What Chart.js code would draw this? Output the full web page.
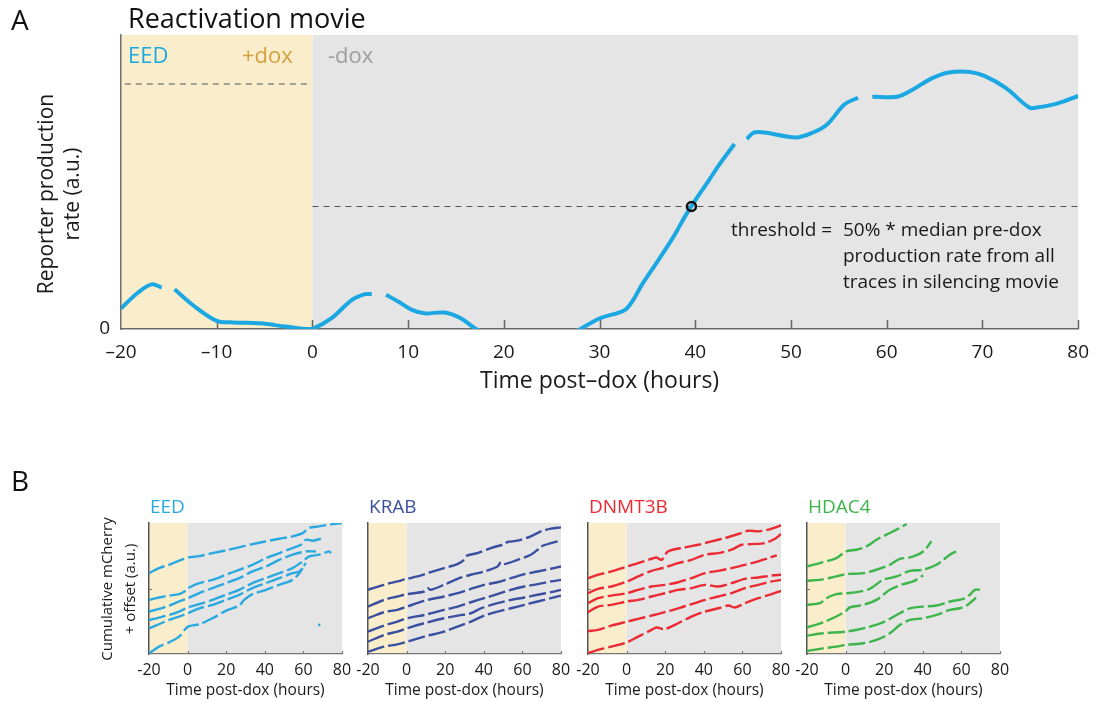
<!DOCTYPE html>
<html>
<head>
<meta charset="utf-8">
<script src="https://cdn.jsdelivr.net/npm/chart.js@4.4.1/dist/chart.umd.min.js"></script>
<style>
  html, body { margin: 0; padding: 0; background: #fff; }
  #fig { position: relative; width: 1101px; height: 702px; overflow: hidden; background: #fff; }
  #fig canvas { position: absolute; }
</style>
</head>
<body>
<div id="fig">
  <canvas id="chartA" width="1101" height="400" style="left:0;top:0"></canvas>
  <canvas id="chartEED" width="362" height="242" style="left:0;top:460px"></canvas>
  <canvas id="chartKRAB" width="273" height="242" style="left:308px;top:460px"></canvas>
  <canvas id="chartDNMT3B" width="273" height="242" style="left:528px;top:460px"></canvas>
  <canvas id="chartHDAC4" width="273" height="242" style="left:747px;top:460px"></canvas>
</div>
<script>
// ---------- Panel A: single reactivation trace (production rate, a.u.) ----------
const reactTime = [-20, -18.3, -16.8, -15.75, -15.1, -14.4, -12.5, -10, -8.3, -5.5, -2.8, -0.7, 0, 2, 4.1, 5.5, 6.2, 6.9, 7.7, 9, 10.4, 11.7, 13.8, 15.5, 17.1, 20, 23, 26, 28, 30, 32.6, 33.5, 34.4, 35.9, 37.7, 39.2, 41.4, 42.8, 44.1, 44.8, 45.4, 46.1, 47.2, 50.5, 52.3, 53.8, 55.6, 57, 57.8, 58.5, 61.1, 62.5, 64.7, 66.5, 68.7, 70.2, 72.4, 74.9, 75.7, 77.8, 80];
const reactRate = [0.084, 0.146, 0.182, 0.169, null, 0.162, 0.098, 0.033, 0.027, 0.023, 0.01, 0, 0, 0.044, 0.118, 0.142, 0.143, null, 0.14, 0.111, 0.078, 0.064, 0.067, 0.044, 0, -0.05, -0.07, -0.04, 0, 0.043, 0.077, 0.118, 0.179, 0.267, 0.375, 0.477, 0.606, 0.687, 0.755, null, 0.775, 0.802, 0.802, 0.782, 0.802, 0.836, 0.917, 0.944, null, 0.948, 0.948, 0.972, 1.023, 1.047, 1.049, 1.033, 0.985, 0.904, 0.904, 0.92, 0.951];
const preDoxMedian = 1.0;          // median pre-dox production rate
const threshold = 0.5;             // 50% of the pre-dox median
const crossTime = 39.6;            // first threshold crossing after dox removal
const xTicksA = [-20, -10, 0, 10, 20, 30, 40, 50, 60, 70, 80];

// ---------- Panel B: cumulative mCherry + offset (a.u.), six cells per chromatin regulator ----------
const eedTimes = [
  [-20, -14.8, -9.6, -4.4, 0.2, 6, 12.9, 19.8, 26.7, 33.6, 40.6, 47.5, 54.4, 59.6, 63, 68.2, 75.2, 80],
  [-20, -14.8, -9.6, -4.4, -1, 0.2, 6, 12.9, 19.8, 26.7, 33.6, 40.6, 47.5, 54.4, 58.7, 61.3, 64.8, 70],
  [-20, -14.8, -9.6, -4.4, 0.2, 6, 12.9, 19.8, 26.7, 33.6, 40.6, 47.5, 54.4, 61.3, 66.5],
  [-20, -14.8, -9.6, -4.4, 0.2, 6, 12.9, 19.8, 26.7, 33.6, 40.6, 47.5, 54.4, 59.6, 63, 68.2, 73.4, 74.3],
  [-20, -14.8, -9.6, -4.4, 0.2, 6, 12.9, 19.8, 26.7, 33.6, 40.6, 47.5, 54.4, 57.9, 61.3],
  [-20, -14.8, -9.6, -4.4, 0.2, 6, 12.9, 19.8, 26.7, 29.3, 33.6, 40.6, 47.5, 54.4, 57.9, 59.6]
];
const eedValues = [
  [6.17, 6.56, 6.81, 7.12, 7.37, 7.47, 7.70, 7.91, 8.14, 8.39, 8.60, 8.80, 8.98, 9.23, 9.62, 9.74, 9.92, 10.0],
  [4.13, 4.31, 4.46, 4.57, 4.82, 5.03, 5.41, 5.66, 6.05, 6.43, 6.81, 7.32, 7.70, 8.09, 8.34, 8.72, 8.65, 8.85],
  [3.24, 3.44, 3.70, 4.01, 4.26, 4.64, 5.03, 5.41, 5.79, 6.30, 6.68, 7.19, 7.58, 7.83, 7.83],
  [2.60, 2.78, 2.98, 3.24, 3.55, 3.80, 4.13, 4.52, 4.90, 5.41, 5.79, 6.17, 6.56, 7.07, 7.45, 7.58, 7.83, 7.70],
  [1.96, 2.27, 2.60, 2.86, 3.11, 3.49, 3.75, 4.13, 4.52, 5.03, 5.41, 5.79, 6.17, 6.30, 6.94],
  [0.05, 0.56, 0.89, 1.33, 2.09, 2.27, 2.73, 3.29, 3.70, 4.13, 4.57, 4.90, 5.28, 5.66, 6.17, 6.56]
];
const eedStray = [[68.2, 2.22]];

const krabTimes = [
  [-20, -11.7, -4.8, 0.2, 5.6, 12.5, 19.4, 26.4, 29.8, 31.6, 36.7, 43.7, 50.6, 52.3, 57.5, 64.4, 69.6, 74.8, 80],
  [-20, -11.7, -4.8, 0.2, 9.1, 10.8, 12.5, 19.4, 26.4, 33.3, 40.2, 47.1, 48.9, 50.6, 57.5, 64.4, 67.9, 69.6, 74.8, 80],
  [-20, -11.7, -4.8, 0.2, 9.1, 19.4, 26.4, 33.3, 40.2, 47.1, 54.1, 61, 67.9, 74.8, 80],
  [-20, -11.7, -4.8, 0.2, 9.1, 19.4, 26.4, 33.3, 40.2, 47.1, 54.1, 61, 67.9, 74.8, 80],
  [-20, -11.7, -4.8, 0.2, 9.1, 19.4, 26.4, 33.3, 38.5, 47.1, 54.1, 61, 67.9, 74.8, 80],
  [-20, -11.7, -4.8, 0.2, 9.1, 19.4, 26.4, 33.3, 40.2, 47.1, 54.1, 61, 67.9, 74.8, 80]
];
const krabValues = [
  [4.90, 5.28, 5.54, 5.74, 5.92, 6.25, 6.56, 6.86, 7.19, 7.53, 7.70, 8.09, 8.39, 8.55, 8.65, 8.98, 9.36, 9.57, 9.67],
  [3.62, 4.13, 4.39, 4.57, 4.77, 5.03, 4.90, 5.28, 5.74, 6.05, 6.30, 6.68, 7.02, 6.86, 7.19, 7.58, 7.96, 8.21, 8.47, 8.65],
  [2.73, 3.19, 3.37, 3.62, 4.06, 4.39, 4.64, 4.97, 5.28, 5.48, 5.79, 6.10, 6.30, 6.51, 6.68],
  [1.71, 2.17, 2.47, 2.73, 2.98, 3.37, 3.62, 3.95, 4.26, 4.57, 4.90, 5.15, 5.33, 5.54, 5.66],
  [0.94, 1.45, 1.71, 1.96, 2.35, 2.73, 2.93, 3.11, 3.49, 3.88, 4.13, 4.31, 4.52, 4.72, 4.90],
  [0.18, 0.56, 0.74, 0.94, 1.33, 1.71, 2.09, 2.47, 2.93, 3.24, 3.49, 3.75, 4.01, 4.26, 4.46]
];

const dnmtTimes = [
  [-20, -14.8, -7.9, 0.2, 6, 12.9, 15.5, 18.1, 21.5, 30.2, 37.1, 44, 50.9, 57.9, 63, 68.2, 73.4, 80],
  [-20, -14.8, -7.9, 0.2, 6, 12.9, 19.8, 26.7, 33.6, 40.6, 47.5, 54.4, 59.6, 64.8, 71.7, 76.9, 80],
  [-20, -14.8, -7.9, 0.2, 6, 12.9, 19.8, 26.7, 33.6, 40.6, 47.5, 54.4, 61.3, 68.2, 73.4, 77.8],
  [-20, -14.8, -7.9, 0.2, 6, 12.9, 19.8, 26.7, 33.6, 40.6, 47.5, 54.4, 61.3, 68.2, 75.2, 80],
  [-20, -14.8, -7.9, 0.2, 6, 12.9, 19.8, 26.7, 33.6, 40.6, 47.5, 54.4, 61.3, 68.2, 75.2, 80],
  [-20, -14.8, -7.9, 0.2, 6, 12.9, 15.5, 19.8, 26.7, 33.6, 40.6, 47.5, 52.7, 56.1, 61.3, 68.2, 75.2, 80]
];
const dnmtValues = [
  [5.79, 6.05, 6.30, 6.68, 6.94, 7.27, 7.37, 7.19, 7.83, 8.14, 8.34, 8.60, 8.85, 9.16, 9.41, 9.36, 9.49, 9.82],
  [4.64, 4.97, 5.15, 5.54, 5.92, 6.35, 6.61, 6.94, 7.19, 7.58, 7.70, 7.96, 8.34, 8.39, 8.47, 8.80, 9.16],
  [3.88, 4.26, 4.46, 4.64, 4.90, 5.15, 5.28, 5.48, 5.79, 6.17, 6.35, 6.56, 6.81, 7.07, 7.32, 7.53],
  [3.19, 3.62, 3.75, 4.01, 4.13, 4.39, 4.64, 4.90, 5.03, 5.28, 5.15, 5.41, 5.74, 5.84, 5.99, 6.05],
  [1.76, 1.84, 2.17, 2.47, 2.68, 2.93, 3.19, 3.49, 3.80, 4.13, 4.39, 4.64, 5.03, 5.28, 5.54, 5.66],
  [0.05, 0.31, 0.56, 0.89, 1.33, 1.84, 2.02, 1.91, 2.35, 2.86, 3.24, 3.49, 3.70, 3.55, 3.88, 4.26, 4.57, 4.82]
];

const hdacTimes = [
  [-20, -13.4, -4.8, 0.2, 5.6, 10.8, 16, 21.2, 26.4, 31.6],
  [-20, -13.4, -4.8, 0.2, 9.1, 16, 22.9, 28.1, 33.3, 40.2, 44.5],
  [-20, -13.4, -10, -4.8, 0.2, 5.6, 12.5, 19.4, 26.4, 33.3, 40.2, 47.1, 50.6, 54.1, 57.2],
  [-20, -11.7, -4.8, 0.2, 2.1, 9.1, 16, 22.9, 29.8, 35, 40.2],
  [-20, -11.7, 0.2, 9.1, 19.4, 28.1, 33.3, 40.2, 47.1, 54.1, 61, 64.4, 67, 69.6],
  [-20, -11.7, -4.8, 0.2, 9.1, 16, 22.9, 28.1, 33.3, 40.2, 47.1, 54.1, 59.2, 62.7, 65.3, 67.6]
];
const hdacValues = [
  [6.68, 6.94, 7.32, 7.83, 7.96, 8.21, 8.72, 9.11, 9.49, 9.92],
  [5.59, 5.66, 5.92, 6.10, 6.17, 6.43, 6.81, 7.27, 7.37, 7.83, 8.60],
  [3.75, 3.88, 4.26, 4.57, 4.64, 4.72, 4.97, 5.66, 5.92, 6.35, 6.43, 6.81, 7.19, 7.58, 7.83],
  [2.02, 2.42, 2.86, 3.29, 3.55, 3.75, 4.13, 4.90, 5.33, 5.54, 6.00],
  [1.40, 1.58, 1.71, 1.96, 2.42, 3.11, 3.49, 3.62, 3.70, 4.01, 4.21, 4.52, 4.90, 4.90],
  [0.23, 0.43, 0.56, 0.69, 0.82, 1.07, 1.58, 2.22, 2.60, 2.73, 2.98, 3.37, 3.49, 3.70, 4.01, 4.31]
];
const xTicksB = [-20, 0, 20, 40, 60, 80];

// ---------- shared styling ----------
const FONT = '"Open Sans", "DejaVu Sans", sans-serif';
const PRE_DOX_FILL = '#F9EDCC';
const POST_DOX_FILL = '#E5E5E5';
const TEXT = '#1a1a1a';

function pts(xs, ys) { return xs.map((x, i) => ({ x: x, y: ys[i] })); }

// Background bands, inward tick marks and free text, drawn through the chart's own scales
function decor(cfg) {
  return {
    id: 'decor',
    beforeDraw(chart) {
      const { ctx, chartArea: a, scales: { x } } = chart;
      ctx.save();
      cfg.bands.forEach(b => {
        const x0 = x.getPixelForValue(b.from), x1 = x.getPixelForValue(b.to);
        ctx.fillStyle = b.color;
        ctx.fillRect(x0, a.top, x1 - x0, a.bottom - a.top);
      });
      ctx.restore();
    },
    beforeDatasetsDraw(chart) {
      const { ctx, chartArea: a, scales: { x, y } } = chart;
      ctx.save();
      ctx.strokeStyle = cfg.tickColor;
      ctx.lineWidth = cfg.tickWidth;
      ctx.beginPath();
      cfg.xTicks.forEach(v => {
        const px = Math.round(x.getPixelForValue(v)) + 0.5;
        ctx.moveTo(px, a.bottom);
        ctx.lineTo(px, a.bottom - cfg.tickLen);
      });
      (cfg.yTicks || []).forEach(v => {
        const py = Math.round(y.getPixelForValue(v)) + 0.5;
        ctx.moveTo(a.left, py);
        ctx.lineTo(a.left + cfg.tickLen, py);
      });
      ctx.stroke();
      ctx.restore();
    },
    afterDraw(chart) {
      const { ctx, chartArea: a } = chart;
      ctx.save();
      cfg.texts(a).forEach(t => {
        ctx.save();
        ctx.font = t.font;
        ctx.fillStyle = t.color || TEXT;
        ctx.textAlign = t.align || 'left';
        ctx.textBaseline = t.baseline || 'alphabetic';
        ctx.translate(t.x, t.y);
        if (t.rotate) ctx.rotate(t.rotate);
        ctx.fillText(t.text, 0, 0);
        ctx.restore();
      });
      ctx.restore();
    }
  };
}

// ---------- Panel A ----------
new Chart(document.getElementById('chartA'), {
  type: 'line',
  data: {
    datasets: [
      {
        data: [{ x: crossTime, y: threshold }],
        type: 'scatter',
        pointRadius: 4.5,
        pointBorderWidth: 2.5,
        pointBorderColor: '#111',
        pointBackgroundColor: 'rgba(0,0,0,0)',
        order: 0
      },
      {
        data: pts(reactTime, reactRate),
        borderColor: '#1BA8E2',
        borderWidth: 4,
        pointRadius: 0,
        tension: 0.35,
        spanGaps: false,
        borderCapStyle: 'butt',
        order: 1
      },
      {
        data: [{ x: -19.6, y: preDoxMedian }, { x: -0.5, y: preDoxMedian }],
        borderColor: '#555',
        borderWidth: 1.2,
        borderDash: [6, 5],
        pointRadius: 0,
        order: 2
      },
      {
        data: [{ x: 0, y: threshold }, { x: 80, y: threshold }],
        borderColor: '#555',
        borderWidth: 1.2,
        borderDash: [6, 5],
        pointRadius: 0,
        order: 2
      }
    ]
  },
  options: {
    responsive: false,
    animation: false,
    devicePixelRatio: 1,
    layout: { padding: { left: 61, right: 16, top: 35, bottom: 0 } },
    plugins: { legend: { display: false }, tooltip: { enabled: false } },
    scales: {
      x: {
        type: 'linear', min: -20, max: 80,
        afterBuildTicks: s => { s.ticks = xTicksA.map(v => ({ value: v })); },
        ticks: {
          font: { family: FONT, size: 19 }, color: TEXT, padding: 12, maxRotation: 0,
          callback: v => (v < 0 ? '\u2013' + Math.abs(v) : String(v))
        },
        grid: { display: true, drawOnChartArea: false, drawTicks: false },
        border: { display: true, color: '#6a6a6a', width: 1.5 },
        afterFit: s => { s.height = 71; }
      },
      y: {
        min: 0, max: 1.2,
        afterBuildTicks: s => { s.ticks = [{ value: 0 }]; },
        ticks: { font: { family: FONT, size: 19 }, color: TEXT, padding: 11, callback: () => '0' },
        grid: { display: true, drawOnChartArea: false, drawTicks: false },
        border: { display: true, color: '#6f6f6f', width: 1.5 },
        afterFit: s => { s.width = 60; }
      }
    }
  },
  plugins: [decor({
    bands: [{ from: -20, to: 0, color: PRE_DOX_FILL }, { from: 0, to: 80, color: POST_DOX_FILL }],
    xTicks: [-10, 0, 10, 20, 30, 40, 50, 60, 70, 80],
    tickLen: 9, tickColor: '#666', tickWidth: 1.5,
    texts: a => [
      { text: 'A', x: 11, y: 30, font: '28px ' + FONT, color: '#111' },
      { text: 'Reactivation movie', x: a.left + 7, y: 28, font: '27px ' + FONT, color: '#111' },
      { text: 'EED', x: a.left + 7, y: 63, font: '22px ' + FONT, color: '#1BA8E2' },
      { text: '+dox', x: a.left + 121, y: 63, font: '22px ' + FONT, color: '#D3A03C' },
      { text: '-dox', x: a.left + 207, y: 63, font: '22px ' + FONT, color: '#9d9d9d' },
      { text: 'threshold =', x: 731, y: 236, font: '19px ' + FONT },
      { text: '50% * median pre-dox', x: 843, y: 236, font: '19px ' + FONT },
      { text: 'production rate from all', x: 843, y: 262, font: '19px ' + FONT },
      { text: 'traces in silencing movie', x: 843, y: 288, font: '19px ' + FONT },
      { text: 'Time post\u2013dox (hours)', x: (a.left + a.right) / 2, y: 388, font: '23px ' + FONT, align: 'center' },
      { text: 'Reporter production', x: 47, y: 194, font: '21px ' + FONT, align: 'center', baseline: 'middle', rotate: -Math.PI / 2 },
      { text: 'rate (a.u.)', x: 73, y: 194, font: '21px ' + FONT, align: 'center', baseline: 'middle', rotate: -Math.PI / 2 }
    ]
  })]
});

// ---------- Panel B ----------
function smallPanel(id, name, color, times, values, extra, first) {
  const datasets = times.map((t, i) => ({
    data: pts(t, values[i]),
    borderColor: color,
    borderWidth: 2.4,
    borderDash: [17, 4],
    pointRadius: 0,
    tension: 0.3
  }));
  if (extra) {
    datasets.push({
      type: 'scatter',
      data: extra.map(p => ({ x: p[0], y: p[1] })),
      pointRadius: 1.3, pointBorderWidth: 0, pointBackgroundColor: color
    });
  }
  const padLeft = first ? 147 : 58;
  new Chart(document.getElementById(id), {
    type: 'line',
    data: { datasets: datasets },
    options: {
      responsive: false,
      animation: false,
      devicePixelRatio: 1,
      layout: { padding: { left: padLeft, right: 20, top: 63, bottom: 0 } },
      plugins: { legend: { display: false }, tooltip: { enabled: false } },
      scales: {
        x: {
          type: 'linear', min: -20, max: 80,
          afterBuildTicks: s => { s.ticks = xTicksB.map(v => ({ value: v })); },
          ticks: { font: { family: FONT, size: 16 }, color: TEXT, padding: 7, maxRotation: 0, callback: v => String(v) },
          grid: { display: true, drawOnChartArea: false, drawTicks: false },
          border: { display: true, color: '#777', width: 1.2 },
          afterFit: s => { s.height = 48; }
        },
        y: {
          min: 0, max: 10,
          ticks: { display: false },
          grid: { display: true, drawOnChartArea: false, drawTicks: false },
          border: { display: true, color: '#555', width: 1.5 },
          afterFit: s => { s.width = 2; }
        }
      }
    },
    plugins: [decor({
      bands: [{ from: -20, to: 0, color: PRE_DOX_FILL }, { from: 0, to: 80, color: POST_DOX_FILL }],
      xTicks: [0, 20, 40, 60, 80],
      yTicks: [5],
      tickLen: 3, tickColor: '#777', tickWidth: 1.2,
      texts: a => {
        const list = [
          { text: name, x: a.left + 1, y: 53, font: '19px ' + FONT, color: color },
          { text: 'Time post-dox (hours)', x: (a.left + a.right) / 2, y: 235, font: '15.5px ' + FONT, align: 'center' }
        ];
        if (first) {
          list.push({ text: 'B', x: 11, y: 31, font: '28px ' + FONT, color: '#111' });
          list.push({ text: 'Cumulative mCherry', x: 108, y: 129, font: '15px ' + FONT, align: 'center', baseline: 'middle', rotate: -Math.PI / 2 });
          list.push({ text: '+ offset (a.u.)', x: 131, y: 129, font: '15px ' + FONT, align: 'center', baseline: 'middle', rotate: -Math.PI / 2 });
        }
        return list;
      }
    })]
  });
}

smallPanel('chartEED', 'EED', '#2AA9E1', eedTimes, eedValues, eedStray, true);
smallPanel('chartKRAB', 'KRAB', '#3A4FA0', krabTimes, krabValues, null, false);
smallPanel('chartDNMT3B', 'DNMT3B', '#EC2A33', dnmtTimes, dnmtValues, null, false);
smallPanel('chartHDAC4', 'HDAC4', '#3DB54A', hdacTimes, hdacValues, null, false);
</script>
</body>
</html>
